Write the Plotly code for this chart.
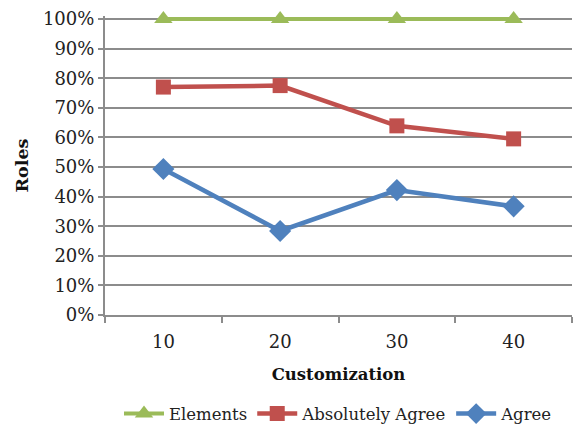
import plotly.graph_objects as go

categories = ["10", "20", "30", "40"]
elements = [1.00, 1.00, 1.00, 1.00]
absolutely_agree = [0.770, 0.775, 0.639, 0.595]
agree = [0.493, 0.284, 0.422, 0.367]
y_ticks = [i / 10 for i in range(11)]
y_tick_labels = [f"{i*10}%" for i in range(11)]

FONT = "DejaVu Serif"
GRID = "#8c8c8c"

fig = go.Figure()
fig.add_trace(go.Scatter(x=categories, y=elements, name="Elements", mode="lines+markers",
                         line=dict(color="#9BBB59", width=4),
                         marker=dict(symbol="triangle-up", size=16, color="#9BBB59"),
                         cliponaxis=False))
fig.add_trace(go.Scatter(x=categories, y=absolutely_agree, name="Absolutely Agree", mode="lines+markers",
                         line=dict(color="#C0504D", width=4.5),
                         marker=dict(symbol="square", size=15, color="#C0504D"),
                         cliponaxis=False))
fig.add_trace(go.Scatter(x=categories, y=agree, name="Agree", mode="lines+markers",
                         line=dict(color="#4F81BD", width=4.5),
                         marker=dict(symbol="diamond", size=17, color="#4F81BD"),
                         cliponaxis=False))

fig.update_layout(
    width=573, height=430,
    margin=dict(l=105, r=1, t=16, b=115, autoexpand=False),
    paper_bgcolor="white", plot_bgcolor="white",
    font=dict(family=FONT, size=17, color="#222222"),
    showlegend=True,
    legend=dict(orientation="h", x=0.5, xanchor="center", y=-0.272, yanchor="top",
                font=dict(family=FONT, size=16.5, color="#222222"),
                itemwidth=40, tracegroupgap=0),
)
fig.update_xaxes(
    type="category", range=[-0.5, 3.5], automargin=False,
    showline=True, linecolor=GRID, linewidth=2,
    ticks="outside", tickson="boundaries", ticklen=6, tickcolor=GRID, tickwidth=2,
    showgrid=False, zeroline=False,
    ticklabelstandoff=9,
    title=dict(text="<b>Customization</b>", font=dict(family=FONT, size=16.5, color="#111111"), standoff=18),
    tickfont=dict(family=FONT, size=18, color="#222222"),
)
fig.update_yaxes(
    range=[0, 299 / 296], tickvals=y_ticks, ticktext=y_tick_labels, automargin=False,
    showline=True, linecolor=GRID, linewidth=2,
    ticks="outside", ticklen=5, tickcolor=GRID, tickwidth=2,
    showgrid=True, gridcolor=GRID, gridwidth=2, zeroline=False,
    title=dict(text="<b>Roles</b>", font=dict(family=FONT, size=17.5, color="#111111"), standoff=10),
    tickfont=dict(family=FONT, size=18, color="#222222"),
)

fig.write_html("out.html")
